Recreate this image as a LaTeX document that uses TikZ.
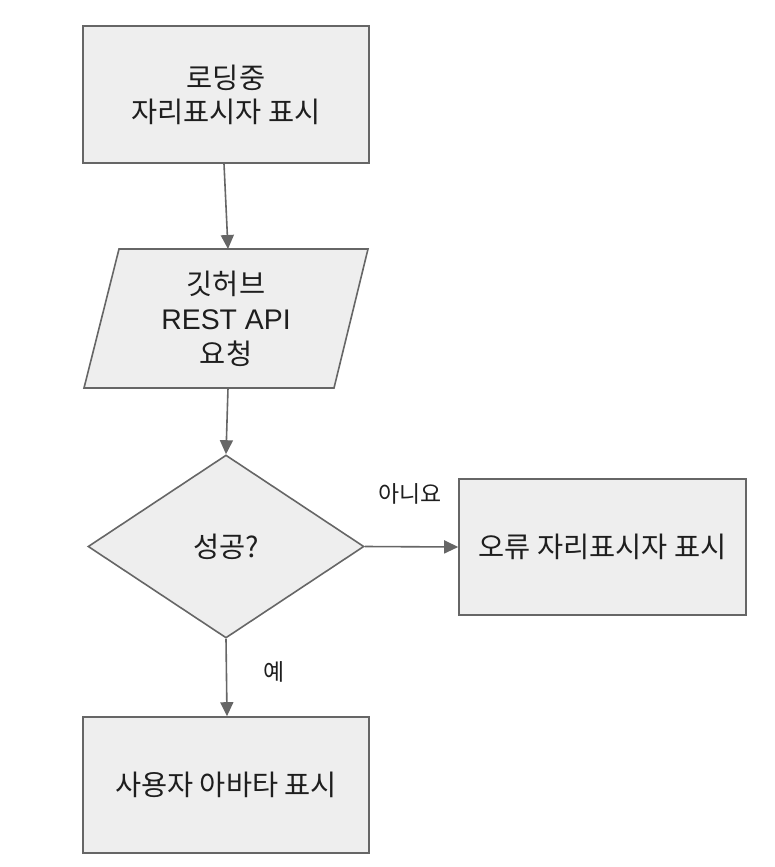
\documentclass[tikz,border=0pt]{standalone}
\usepackage{fontspec}
\setmainfont{Liberation Sans}
\newfontfamily\kr{Noto Sans CJK KR}
\usetikzlibrary{shapes.geometric,arrows.meta}
\definecolor{boxfill}{HTML}{EEEEEE}
\definecolor{boxline}{HTML}{666666}
\definecolor{txt}{HTML}{1E1E1E}
\tikzset{
  procbox/.style={draw=boxline, fill=boxfill, line width=1.6bp, minimum width=286bp, minimum height=137bp, inner sep=0pt, align=center, text=txt, font=\fontsize{28.5}{34}\selectfont},
  decbox/.style={diamond, draw=boxline, fill=boxfill, line width=1.6bp, minimum width=276bp, minimum height=183bp, inner sep=0pt, align=center, text=txt, font=\fontsize{28.5}{34}\selectfont},
  conn/.style={draw=boxline, line width=1.6bp, -{Triangle[length=14bp,width=13bp]}},
  lbl/.style={text=txt, font=\kr\fontsize{23}{28}\selectfont, inner sep=0pt}
}
\begin{document}
\begin{tikzpicture}[x=1bp,y=-1bp]
\useasboundingbox (0,0) rectangle (775,867);
% loading box
\node[procbox] (load) at (226,94.5) {\kr 로딩중\\\kr 자리표시자 표시};
% parallelogram
\coordinate (ptl) at (119,249);
\coordinate (ptr) at (368,249);
\coordinate (pbr) at (334,388);
\coordinate (pbl) at (84,388);
\draw[draw=boxline, fill=boxfill, line width=1.6bp, line join=miter] (ptl) -- (ptr) -- (pbr) -- (pbl) -- cycle;
\node[align=center, text=txt, font=\fontsize{28.5}{35}\selectfont] (req) at (226,318.5) {\kr 깃허브\\REST API\\\kr 요청};
\coordinate (reqtop) at (228,249);
\coordinate (reqbot) at (228,388);
% decision
\node[decbox] (dec) at (226,546.5) {\kr 성공?};
% error box
\node[procbox, minimum width=287bp, minimum height=136bp] (err) at (602.5,547) {\kr 오류 자리표시자 표시};
% avatar box
\node[procbox, minimum height=136bp] (ava) at (226,785) {\kr 사용자 아바타 표시};
% connectors
\draw[conn] ([xshift=-2bp]load.south) -- (reqtop);
\draw[conn] (reqbot) -- (dec.north);
\draw[conn] (dec.east) -- (err.west);
\draw[conn] (dec.south) -- ([xshift=1bp]ava.north);
% labels
\node[lbl] (no) at (410,494) {아니요};
\node[lbl] (yes) at (274,672) {예};
\end{tikzpicture}
\end{document}
